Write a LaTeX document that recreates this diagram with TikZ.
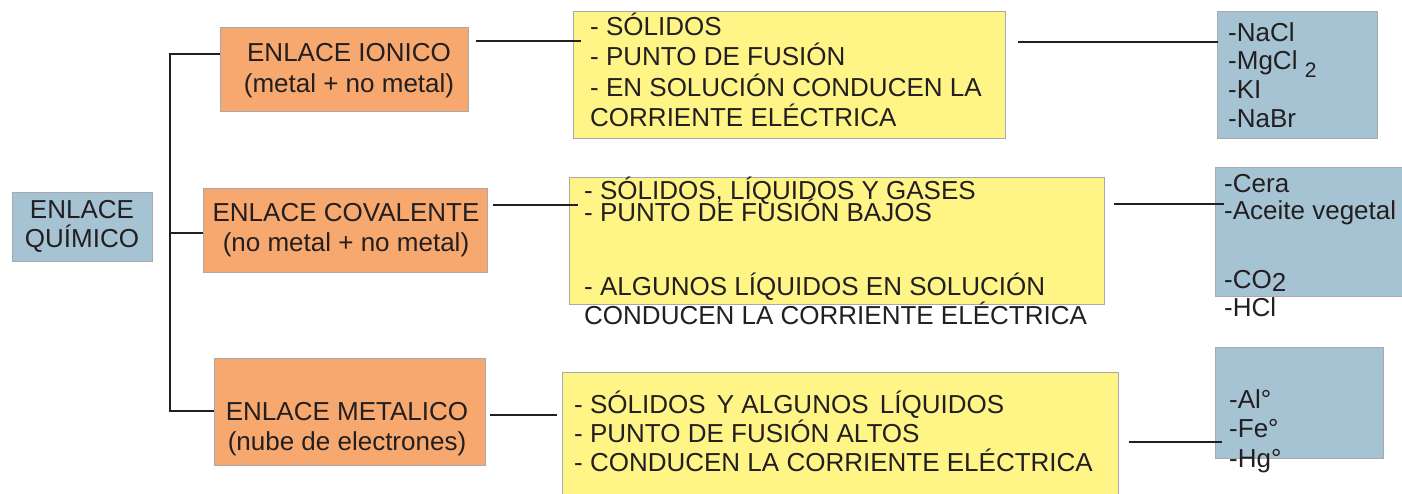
\documentclass[tikz,border=0pt]{standalone}
\usepackage{fontspec}
\setmainfont{Liberation Sans}
\usepackage{xcolor}
\usepackage{tikz}
\usetikzlibrary{positioning}

\definecolor{naranja}{HTML}{F7A86E}
\definecolor{celeste}{HTML}{A6C3D3}
\definecolor{amarillo}{HTML}{FFF587}
\definecolor{borde}{HTML}{A7A9AC}
\definecolor{tinta}{HTML}{231F20}

\begin{document}
\begin{tikzpicture}[x=1pt, y=-1pt,
    concepto/.style={rectangle, draw=borde, fill=celeste, line width=1pt, anchor=north west, inner sep=0pt},
    tipo/.style={rectangle, draw=borde, fill=naranja, line width=1pt, anchor=north west, inner sep=0pt},
    prop/.style={rectangle, draw=borde, fill=amarillo, line width=1pt, anchor=north west, inner sep=0pt},
    ejemplo/.style={rectangle, draw=borde, fill=celeste, line width=1pt, anchor=north west, inner sep=0pt},
    txt/.style={inner sep=0pt, text=tinta, font=\fontsize{26}{30}\selectfont},
    rama/.style={draw=tinta, line width=1.5pt},
    enlace/.style={draw=tinta, line width=2pt}
]

\useasboundingbox (0,0) rectangle (1402,494);

% Main concept
\node[concepto, minimum width=140pt, minimum height=69pt] (quimico) at (12,192) {};

% Bond types
\node[tipo, minimum width=248pt, minimum height=84pt] (ionico) at (220,27) {};
\node[tipo, minimum width=284pt, minimum height=84pt] (covalente) at (203,188) {};
\node[tipo, minimum width=271pt, minimum height=107pt] (metalico) at (214,358) {};

% Properties
\node[prop, minimum width=432pt, minimum height=127pt] (sol1) at (573,11) {};
\node[prop, minimum width=535pt, minimum height=127pt] (sol2) at (569,177) {};
\node[prop, minimum width=556pt, minimum height=135pt] (sol3) at (562,372) {};

% Examples
\node[ejemplo, minimum width=160pt, minimum height=127pt] (ej1) at (1217,11) {};
\node[ejemplo, minimum width=200pt, minimum height=129pt] (ej2) at (1215,167) {};
\node[ejemplo, minimum width=168pt, minimum height=111pt] (ej3) at (1215,347) {};

% Tree
\coordinate (tI) at (170,54);
\coordinate (tC) at (170,233);
\coordinate (tM) at (170,411);
\draw[rama] (ionico.west |- tI) -- (tI) -- (tM) -- (metalico.west |- tM);
\draw[rama] (tC) -- (covalente.west |- tC);

% Connections
\coordinate (nI) at (0,41);
\coordinate (nC) at (0,205);
\coordinate (nM) at (0,415);
\coordinate (eI) at (0,42);
\coordinate (eC) at (0,204);
\coordinate (eM) at (0,442);
\draw[enlace] ([xshift=7pt]ionico.east |- nI) -- ([xshift=8pt]sol1.west |- nI);
\draw[enlace] ([xshift=5pt]covalente.east |- nC) -- ([xshift=9pt]sol2.west |- nC);
\draw[enlace] ([xshift=4pt]metalico.east |- nM) -- ([xshift=-5pt]sol3.west |- nM);
\draw[enlace] ([xshift=12pt]sol1.east |- eI) -- ([xshift=1pt]ej1.west |- eI);
\draw[enlace] ([xshift=9pt]sol2.east |- eC) -- ([xshift=9pt]ej2.west |- eC);
\draw[enlace] ([xshift=10pt]sol3.east |- eM) -- ([xshift=7pt]ej3.west |- eM);

% Texts
\node[txt, anchor=base] (q1) at (82,219) {ENLACE};
\node[txt, anchor=base] (q2) at (82,248) {QUÍMICO};

\node[txt, anchor=base] (i1) at (349,62) {ENLACE IONICO};
\node[txt, anchor=base] (i2) at (349,93) {(metal + no metal)};
\node[txt, anchor=base] (c1) at (346,222) {ENLACE COVALENTE};
\node[txt, anchor=base] (c2) at (346,252) {(no metal + no metal)};
\node[txt, anchor=base] (m1) at (347,420) {ENLACE METALICO};
\node[txt, anchor=base] (m2) at (347,450) {(nube de electrones)};

\foreach \n/\y/\t in {1/36/{- SÓLIDOS}, 2/66/{- PUNTO DE FUSIÓN},
    3/97/{- EN SOLUCIÓN CONDUCEN LA}, 4/127/{CORRIENTE ELÉCTRICA}}
  \node[txt, anchor=base west] (s1-\n) at (590,\y) {\t};
\foreach \n/\y/\t in {1/200/{- SÓLIDOS, LÍQUIDOS Y GASES}, 2/222/{- PUNTO DE FUSIÓN BAJOS},
    3/295/{- ALGUNOS LÍQUIDOS EN SOLUCIÓN}, 4/324/{CONDUCEN LA CORRIENTE ELÉCTRICA}}
  \node[txt, anchor=base west] (s2-\n) at (584,\y) {\t};
\foreach \n/\y/\t in {1/413/{- SÓLIDOS\hspace{4pt} Y ALGUNOS\hspace{4pt} LÍQUIDOS}, 2/442/{- PUNTO DE FUSIÓN ALTOS},
    3/471/{- CONDUCEN LA CORRIENTE ELÉCTRICA}}
  \node[txt, anchor=base west] (s3-\n) at (574,\y) {\t};

\foreach \n/\y/\t in {1/42/{-NaCl}, 2/70/{-MgCl \raisebox{-8pt}{\fontsize{21}{21}\selectfont 2}},
    3/99/{-KI}, 4/128/{-NaBr}}
  \node[txt, anchor=base west] (e1-\n) at (1228,\y) {\t};
\foreach \n/\y/\t in {1/193/{-Cera}, 2/220/{-Aceite vegetal},
    3/288/{-CO\raisebox{-3pt}{2}}, 4/316/{-HCl}}
  \node[txt, anchor=base west] (e2-\n) at (1224,\y) {\t};
\foreach \n/\y/\t in {1/408/{-Al°}, 2/437/{-Fe°}, 3/467/{-Hg°}}
  \node[txt, anchor=base west] (e3-\n) at (1229,\y) {\t};

\end{tikzpicture}
\end{document}
